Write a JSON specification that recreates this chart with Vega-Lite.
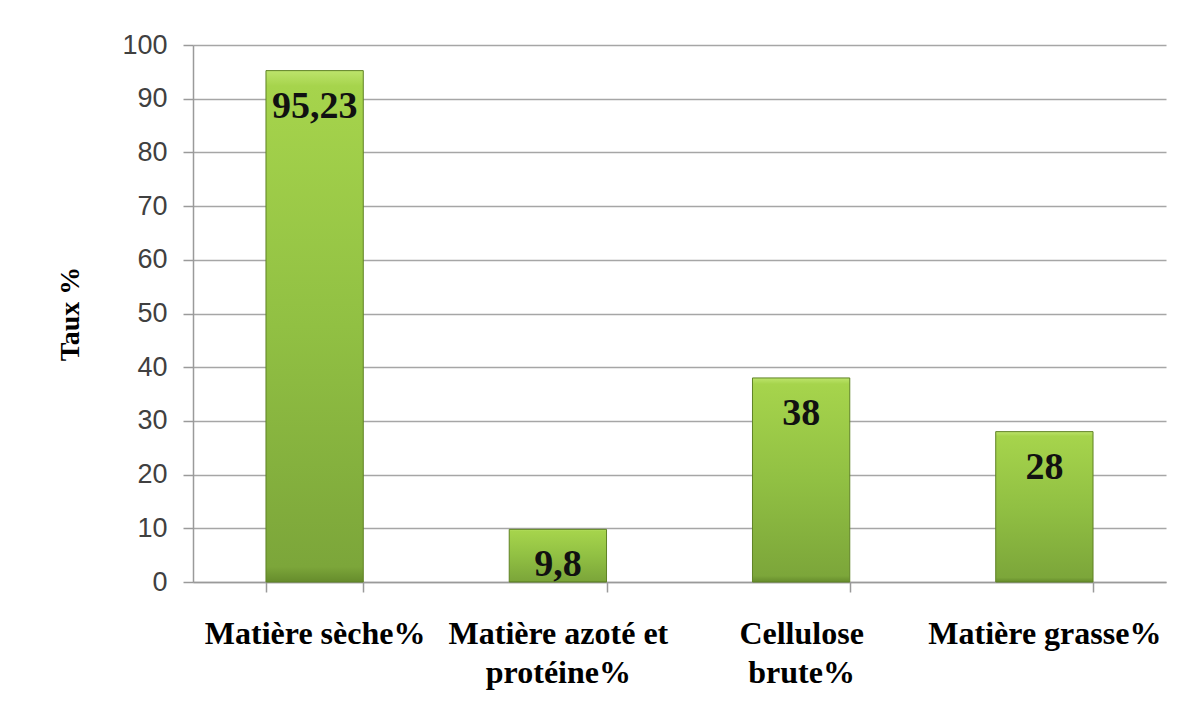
{
  "$schema": "https://vega.github.io/schema/vega-lite/v6.json",
  "autosize": {"type": "none"},
  "padding": {"left": 193, "top": 45, "right": 29, "bottom": 140},
  "width": 973,
  "height": 537,
  "background": "white",
  "data": {"values": [
    {"cat": "Matière sèche%", "val": 95.23, "label": "95,23"},
    {"cat": "Matière azoté et protéine%", "val": 9.8, "label": "9,8"},
    {"cat": "Cellulose brute%", "val": 38, "label": "38"},
    {"cat": "Matière grasse%", "val": 28, "label": "28"}
  ]},
  "encoding": {
    "x": {"field": "cat", "type": "nominal", "sort": null,
      "scale": {"paddingInner": 0.6, "paddingOuter": 0.3},
      "axis": {"title": null, "labelAngle": 0, "labelFont": "Liberation Serif", "labelFontWeight": "bold",
        "labelFontSize": 32, "labelColor": "#000000", "labelPadding": 26, "labelLimit": 0, "labelLineHeight": 39,
        "labelBaseline": "top",
        "labelExpr": "datum.value == 'Matière azoté et protéine%' ? ['Matière azoté et', 'protéine%'] : datum.value == 'Cellulose brute%' ? ['Cellulose', 'brute%'] : datum.value",
        "tickBand": "extent", "ticks": true, "tickSize": 10, "tickColor": "#9a9a9a", "tickWidth": 1.5,
        "domainColor": "#9a9a9a", "domainWidth": 1.5, "grid": false}
    },
    "y": {"field": "val", "type": "quantitative",
      "scale": {"domain": [0, 100], "nice": false},
      "axis": {"title": "Taux %", "titleFont": "Liberation Serif", "titleFontWeight": "bold", "titleFontSize": 28,
        "titleColor": "#000000", "titlePadding": 37, "values": [0,10,20,30,40,50,60,70,80,90,100],
        "labelFont": "Liberation Sans", "labelFontSize": 27, "labelColor": "#404040", "labelPadding": 16,
        "tickSize": 10, "tickColor": "#9a9a9a", "tickWidth": 1.5, "domainColor": "#9a9a9a", "domainWidth": 1.5,
        "grid": true, "gridColor": "#a6a6a6", "gridWidth": 1.5}
    }
  },
  "layer": [
    {"mark": {"type": "bar", "stroke": "#5f8224", "strokeWidth": 1,
      "color": {"gradient": "linear", "x1": 0, "y1": 0, "x2": 0, "y2": 1,
        "stops": [
          {"offset": 0, "color": "#bde46c"},
          {"offset": 0.03, "color": "#a6d44c"},
          {"offset": 0.5, "color": "#91c043"},
          {"offset": 0.97, "color": "#7ca63a"},
          {"offset": 1, "color": "#668c2c"}
        ]}}},
    {"mark": {"type": "text", "font": "Liberation Serif", "fontWeight": "bold", "fontSize": 38, "color": "#111111",
      "baseline": "middle", "dy": 36},
      "encoding": {"text": {"field": "label"}}}
  ],
  "config": {"view": {"stroke": null}}
}
